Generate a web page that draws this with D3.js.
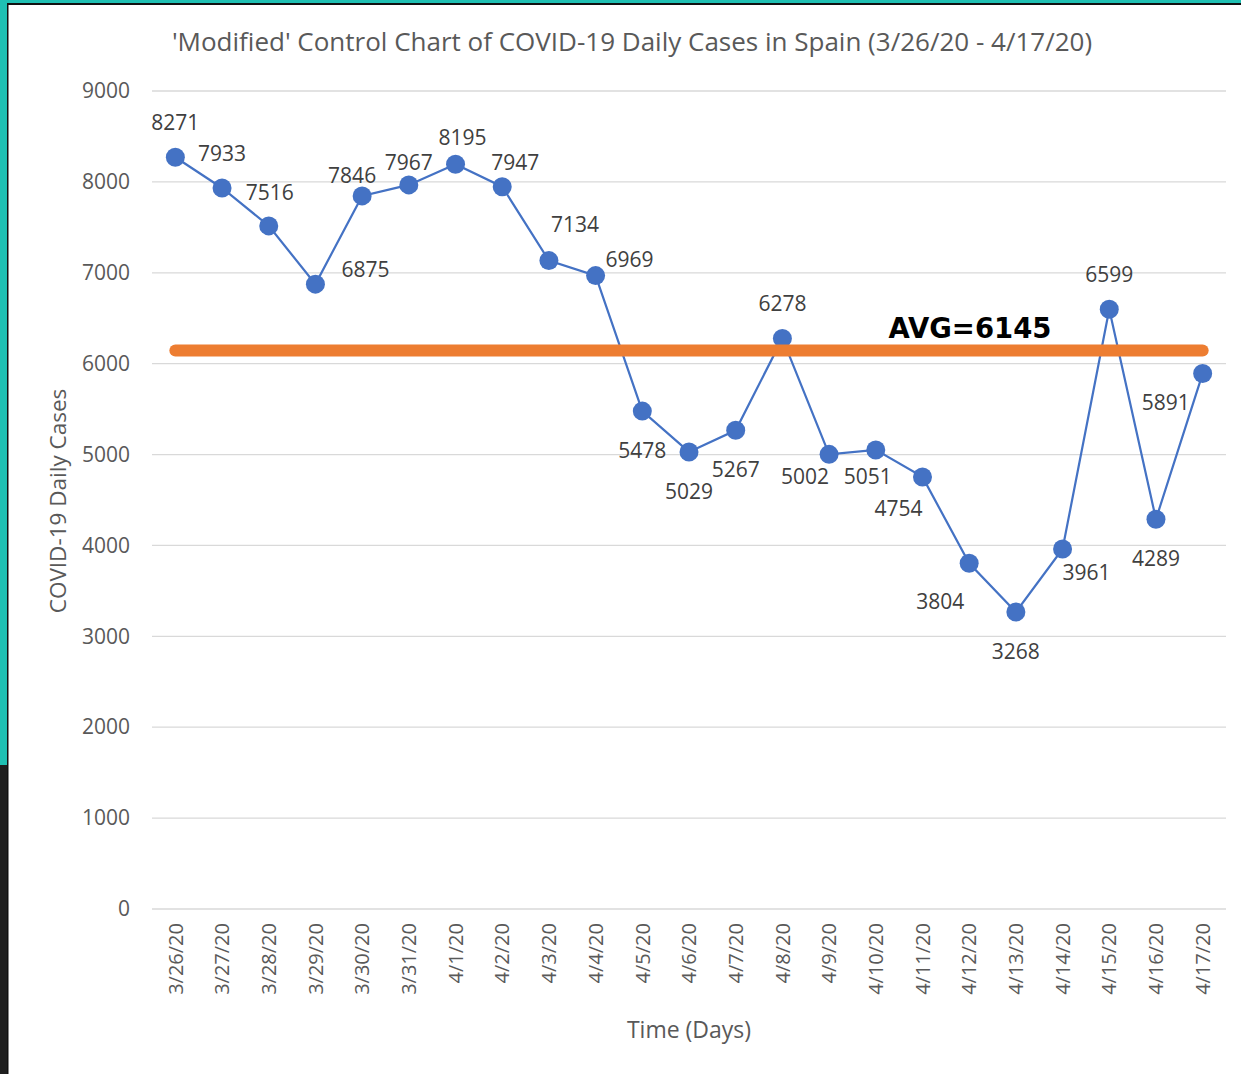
<!DOCTYPE html>
<html>
<head>
<meta charset="utf-8">
<script src="https://cdn.jsdelivr.net/npm/d3@7"></script>
<style>
  body { margin:0; background:#fff; }
  svg { display:block; }
  text { font-family: "Open Sans", "Noto Sans", sans-serif; }
</style>
</head>
<body>
<svg id="chart" width="1241" height="1074"></svg>
<script>
// data
const days = ["3/26/20","3/27/20","3/28/20","3/29/20","3/30/20","3/31/20","4/1/20","4/2/20","4/3/20","4/4/20",
  "4/5/20","4/6/20","4/7/20","4/8/20","4/9/20","4/10/20","4/11/20","4/12/20","4/13/20","4/14/20","4/15/20","4/16/20","4/17/20"];
const cases = [8271,7933,7516,6875,7846,7967,8195,7947,7134,6969,5478,5029,5267,6278,5002,5051,4754,3804,3268,3961,6599,4289,5891];
const avgValue = 6145;
const yTicks = [0,1000,2000,3000,4000,5000,6000,7000,8000,9000];

const svg = d3.select("#chart");
const W = 1241, H = 1074;
const m = { left:152, right:1226, top:91, bottom:909 };

// frame: teal strip + dark edges
svg.append("rect").attr("x",0).attr("y",0).attr("width",W).attr("height",3).attr("fill","#1fc0b3");
svg.append("rect").attr("x",0).attr("y",0).attr("width",7).attr("height",765).attr("fill","#1fc0b3");
svg.append("rect").attr("x",0).attr("y",765).attr("width",7).attr("height",H-765).attr("fill","#1f1f1f");
svg.append("rect").attr("x",7).attr("y",3).attr("width",W-7).attr("height",2).attr("fill","#111");
svg.append("rect").attr("x",7).attr("y",3).attr("width",1.5).attr("height",H-3).attr("fill","#111");

const x = d3.scaleBand().domain(days).range([m.left, m.right]);
const y = d3.scaleLinear().domain([0,9000]).range([m.bottom, m.top]);
const cx = d => x(d) + x.bandwidth()/2;

// grid
svg.append("g").selectAll("line").data(yTicks).enter().append("line")
  .attr("x1",m.left).attr("x2",m.right).attr("y1",d=>y(d)).attr("y2",d=>y(d))
  .attr("stroke","#d9d9d9").attr("stroke-width",1.3);

// y axis labels
const yAxis = svg.append("g").attr("transform",`translate(${m.left},0)`)
  .call(d3.axisLeft(y).tickValues(yTicks).tickFormat(d3.format("d")).tickSize(0).tickPadding(22));
yAxis.select(".domain").remove();
yAxis.selectAll("text").attr("fill","#595959").style("font-size","21px").style("font-family","'Open Sans', sans-serif");

// x axis labels
const xAxis = svg.append("g").attr("transform",`translate(0,${m.bottom})`)
  .call(d3.axisBottom(x).tickSize(0).tickPadding(0));
xAxis.select(".domain").remove();
xAxis.selectAll("text").attr("fill","#595959").style("font-size","20px").style("font-family","'Open Sans', sans-serif")
  .attr("transform","rotate(-90)").attr("text-anchor","end").attr("x",-14).attr("y",0).attr("dy","0.36em");

// titles
svg.append("text").attr("x",632).attr("y",51).attr("text-anchor","middle").attr("fill","#595959")
  .style("font-size","26px").text("'Modified' Control Chart of COVID-19 Daily Cases in Spain (3/26/20 - 4/17/20)");
svg.append("text").attr("transform","translate(66,501) rotate(-90)").attr("text-anchor","middle").attr("fill","#595959")
  .style("font-size","22.5px").text("COVID-19 Daily Cases");
svg.append("text").attr("x",689).attr("y",1038).attr("text-anchor","middle").attr("fill","#595959")
  .style("font-size","23px").text("Time (Days)");

// series line and markers
const line = d3.line().x((d,i)=>cx(days[i])).y(d=>y(d));
svg.append("path").datum(cases).attr("d",line).attr("fill","none").attr("stroke","#4472c4").attr("stroke-width",2.2);
svg.append("g").selectAll("circle").data(cases).enter().append("circle")
  .attr("cx",(d,i)=>cx(days[i])).attr("cy",d=>y(d)).attr("r",9.5).attr("fill","#4472c4");

// average line
svg.append("line").attr("x1",cx(days[0])).attr("x2",cx(days[days.length-1]))
  .attr("y1",y(avgValue)).attr("y2",y(avgValue))
  .attr("stroke","#ed7d31").attr("stroke-width",12).attr("stroke-linecap","round");
svg.append("text").attr("x",970).attr("y",338).attr("text-anchor","middle").attr("fill","#000")
  .style("font-size","27.5px").style("font-weight","bold").style("font-family","'DejaVu Sans', sans-serif")
  .text("AVG=" + avgValue);

// data label offsets from each marker (dx, dy)
const labelOff = [[0,-34],[0,-34],[1,-33],[50,-14],[-10,-20],[0,-22],[7,-26],[13,-24],[26,-36],[34,-16],
  [0,40],[0,40],[0,40],[0,-34],[-24,23],[-8,27],[-24,32],[-29,39],[0,40],[24,24],[0,-34],[0,40],[-37,29]];
svg.append("g").selectAll("text").data(cases).enter().append("text")
  .attr("x",(d,i)=>cx(days[i]) + labelOff[i][0])
  .attr("y",(d,i)=>y(d) + labelOff[i][1] + 7)
  .attr("text-anchor","middle").attr("fill","#404040").style("font-size","21px")
  .text(d=>d);
</script>
</body>
</html>
